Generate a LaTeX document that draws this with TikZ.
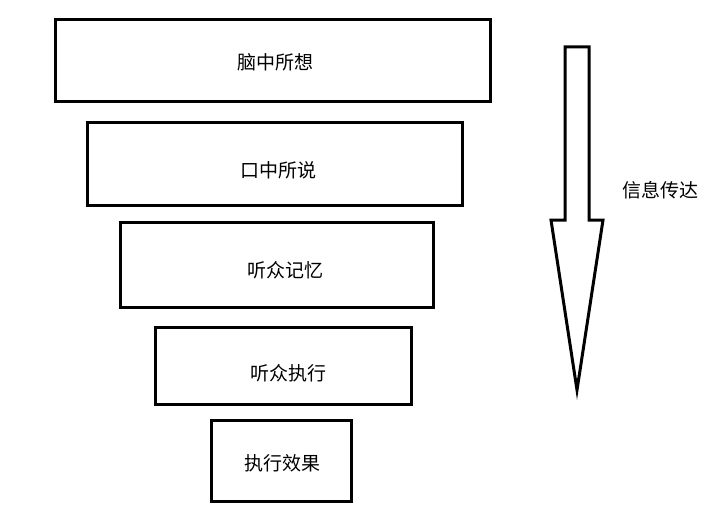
\documentclass[tikz,border=0pt]{standalone}
\usepackage{fontspec}
\newfontfamily\cjk{Noto Sans CJK SC}
\usetikzlibrary{positioning}

\tikzset{
  level/.style={draw, line width=3pt, inner sep=0pt, font=\cjk\fontsize{19}{22}\selectfont},
  word/.style={font=\cjk\fontsize{19}{22}\selectfont}
}

\begin{document}
\begin{tikzpicture}[x=1pt, y=-1pt]
        \useasboundingbox (0,0) rectangle (715,516);

        \node[level, minimum width=435pt, minimum height=82pt] (L1) at (272.5, 61) {};
        \node[word] (T1) at (275, 62) {脑中所想};

        \node[level, minimum width=375pt, minimum height=82pt] (L2) at (274.5, 164) {};
        \node[word] (T2) at (278, 170) {口中所说};

        \node[level, minimum width=313pt, minimum height=85pt] (L3) at (276.5, 264.5) {};
        \node[word] (T3) at (285, 270) {听众记忆};

        \node[level, minimum width=256pt, minimum height=77pt] (L4) at (283, 365.5) {};
        \node[word] (T4) at (288, 373) {听众执行};

        \node[level, minimum width=140pt, minimum height=81pt] (L5) at (281, 460.5) {};
        \node[word] (T5) at (282, 463) {执行效果};

        % flow arrow
        \draw[line width=3pt, line join=miter]
          (565,47) -- (589,47) -- (589,220) -- (603,220) -- (577,390)
          -- (551,220) -- (565,220) -- cycle;
        \node[word] (Flow) at (660, 190) {信息传达};

      \end{tikzpicture}
\end{document}
